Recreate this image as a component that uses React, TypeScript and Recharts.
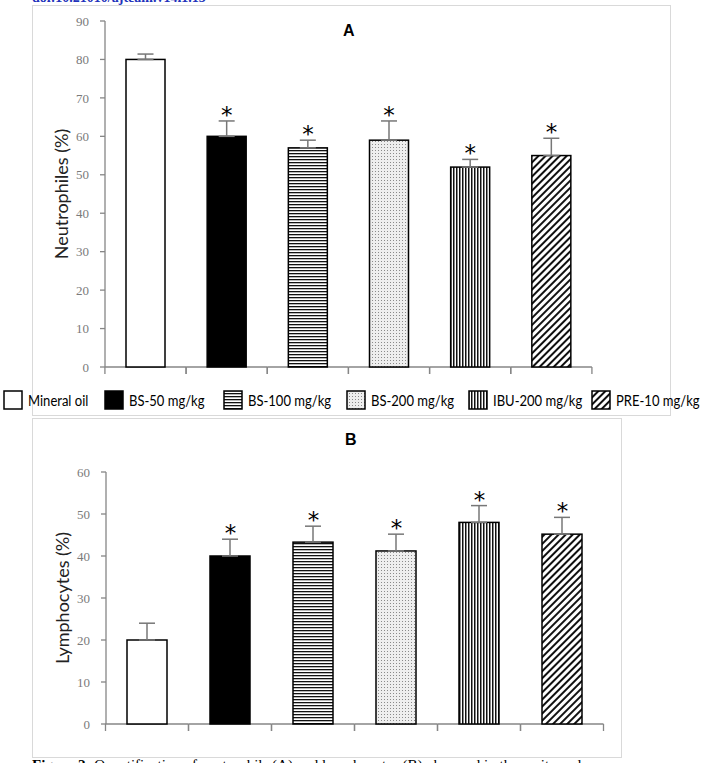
import React from 'react';
import { ComposedChart, Bar, Line, XAxis, YAxis, ErrorBar, Cell } from 'recharts';

const groups = ['Mineral oil', 'BS-50 mg/kg', 'BS-100 mg/kg', 'BS-200 mg/kg', 'IBU-200 mg/kg', 'PRE-10 mg/kg'];
const neutroMean = [80, 60, 57, 59, 52, 55];
const neutroErr = [1.4, 4, 2, 5, 2, 4.5];
const lymphoMean = [20, 40, 43.3, 41.2, 48, 45.2];
const lymphoErr = [4, 4, 3.8, 4, 4, 4];
const significant = [false, true, true, true, true, true];
const neutroTicks = [0, 10, 20, 30, 40, 50, 60, 70, 80, 90];
const lymphoTicks = [0, 10, 20, 30, 40, 50, 60];
const boundaryTicks = [0, 1, 2, 3, 4, 5, 6];
const fills = ['#ffffff', '#000000', 'url(#pHoriz)', 'url(#pDots)', 'url(#pVert)', 'url(#pDiag)'];
const legendSlots = [101, 119, 123, 122, 123, 111];

const AXIS = '#868686';
const Y_AXIS_WIDTH = 60;

const Star = (props: any) => {
  const { cx, cy, value, index } = props;
  if (value == null || cy == null) return <g key={'s' + index} />;
  return (
    <text key={'s' + index} x={cx} y={cy + 2} textAnchor="middle" fontSize={23} fontFamily="DejaVu Sans" fill="#000">
      *
    </text>
  );
};

// Bar shape: draws the category's stretch of the x axis (with boundary ticks) and the bar itself
const makeBarShape = (band: number) => (p: any) => {
  const x = Number(p.x);
  const y = Number(p.y);
  const w = Number(p.width);
  const h = Number(p.height);
  const cx = x + w / 2;
  const yb = y + h;
  const left = cx - band / 2;
  const right = cx + band / 2;
  return (
    <g>
      <line x1={left} x2={right} y1={yb} y2={yb} stroke={AXIS} strokeWidth={1.3} />
      <line x1={left} x2={left} y1={yb} y2={yb + 7} stroke={AXIS} strokeWidth={1.3} />
      <line x1={right} x2={right} y1={yb} y2={yb + 7} stroke={AXIS} strokeWidth={1.3} />
      <rect x={x} y={y} width={w} height={h} fill={p.fill} stroke="#000" strokeWidth={1.5} />
    </g>
  );
};

const BlankTick = () => <g />;

function Panel(props: { means: number[]; errs: number[]; ticks: number[]; label: string; width: number; height: number; margin: any; barSize: number }) {
  const { means, errs, ticks, label, width, height, margin, barSize } = props;
  const data = groups.map((g, i) => ({
    group: g,
    pos: i + 0.5,
    mean: means[i],
    err: [0, errs[i]],
    star: significant[i] ? means[i] + errs[i] : null,
  }));
  const max = ticks[ticks.length - 1];
  const band = (width - margin.left - margin.right - Y_AXIS_WIDTH) / groups.length;
  const shape = makeBarShape(band);
  return (
    <ComposedChart width={width} height={height} data={data} margin={margin}>
      <XAxis
        dataKey="pos"
        type="number"
        domain={[0, 6]}
        ticks={boundaryTicks}
        tick={BlankTick}
        interval={0}
        axisLine={false}
        tickLine={false}
      />
      <YAxis
        type="number"
        domain={[0, max]}
        ticks={ticks}
        width={Y_AXIS_WIDTH}
        tickSize={5}
        tickMargin={11}
        axisLine={{ stroke: AXIS, strokeWidth: 1.3 }}
        tickLine={{ stroke: AXIS, strokeWidth: 1.3 }}
        tick={{ fill: '#7a7a7a', fontFamily: 'Liberation Serif', fontSize: 13 }}
        label={{ value: label, angle: -90, position: 'center', dx: -13, style: { fontFamily: 'Lato', fontSize: 18, fill: '#222' } }}
      />
      <Bar dataKey="mean" barSize={barSize} stroke="#000" strokeWidth={1.5} shape={shape} isAnimationActive={false}>
        {data.map((d, i) => (
          <Cell key={i} fill={fills[i]} />
        ))}
        <ErrorBar dataKey="err" direction="y" width={8} stroke="#777" strokeWidth={1.5} />
      </Bar>
      <Line dataKey="star" stroke="none" dot={Star} activeDot={false} isAnimationActive={false} legendType="none" />
    </ComposedChart>
  );
}

function Swatch({ fill }: { fill: string }) {
  return (
    <svg width={20} height={20} style={{ display: 'block', flex: 'none' }}>
      <rect x={1} y={1} width={18} height={18} fill={fill} stroke="#000" strokeWidth={1.5} />
    </svg>
  );
}

export default function App() {
  return (
    <div style={{ position: 'absolute', left: 0, top: 0, width: 702, height: 763, overflow: 'hidden', background: '#fff' }}>
      <svg width={0} height={0} style={{ position: 'absolute' }}>
        <defs>
          <pattern id="pHoriz" width="4" height="3" patternUnits="userSpaceOnUse">
            <rect width="4" height="3" fill="#ffffff" />
            <rect width="4" height="1.3" fill="#111111" />
          </pattern>
          <pattern id="pDots" width="3" height="3" patternUnits="userSpaceOnUse">
            <rect width="3" height="3" fill="#eeeeee" />
            <rect width="1" height="1" fill="#8a8a8a" />
          </pattern>
          <pattern id="pVert" width="3" height="4" patternUnits="userSpaceOnUse">
            <rect width="3" height="4" fill="#ffffff" />
            <rect width="1.5" height="4" fill="#111111" />
          </pattern>
          <pattern id="pDiag" width="5" height="5" patternUnits="userSpaceOnUse" patternTransform="rotate(45)">
            <rect width="5" height="5" fill="#ffffff" />
            <rect width="2" height="5" fill="#111111" />
          </pattern>
        </defs>
      </svg>

      <div style={{ position: 'absolute', left: 32, top: -10, fontFamily: 'Liberation Serif', fontSize: 14, color: '#2233bb', fontWeight: 'bold', whiteSpace: 'nowrap' }}>
        doi:10.21010/ajtcam.v14i1.15
      </div>

      <div style={{ position: 'absolute', left: 32, top: 5, width: 637, height: 409, border: '1px solid #d9d9d9' }} />
      <div style={{ position: 'absolute', left: 32, top: 418, width: 588, height: 338, border: '1px solid #d9d9d9' }} />

      <div style={{ position: 'absolute', left: 0, top: 0 }}>
        <Panel
          means={neutroMean}
          errs={neutroErr}
          ticks={neutroTicks}
          label="Neutrophiles (%)"
          width={702}
          height={420}
          margin={{ top: 21, right: 110, bottom: 23, left: 45 }}
          barSize={39}
        />
      </div>
      <div style={{ position: 'absolute', left: 343, top: 22, fontFamily: 'Liberation Sans', fontWeight: 'bold', fontSize: 16 }}>A</div>

      <div style={{ position: 'absolute', left: 3, top: 390, display: 'flex', alignItems: 'center', whiteSpace: 'nowrap', fontFamily: 'Lato', fontSize: 15.5, color: '#000' }}>
        {groups.map((g, i) => (
          <div key={g} style={{ display: 'flex', alignItems: 'center', width: legendSlots[i] }}>
            <Swatch fill={fills[i]} />
            <span style={{ marginLeft: 5, display: 'inline-block', transform: 'scaleX(0.84)', transformOrigin: 'left center' }}>{g}</span>
          </div>
        ))}
      </div>

      <div style={{ position: 'absolute', left: 0, top: 420 }}>
        <Panel
          means={lymphoMean}
          errs={lymphoErr}
          ticks={lymphoTicks}
          label="Lymphocytes (%)"
          width={702}
          height={340}
          margin={{ top: 52, right: 98, bottom: 6, left: 46 }}
          barSize={40}
        />
      </div>
      <div style={{ position: 'absolute', left: 345, top: 431, fontFamily: 'Liberation Sans', fontWeight: 'bold', fontSize: 16 }}>B</div>

      <div style={{ position: 'absolute', left: 32, top: 757, fontFamily: 'Liberation Serif', fontSize: 15, color: '#000', whiteSpace: 'nowrap' }}>
        <b>Figure 2:</b> Quantification of neutrophils (A) and lymphocytes (B) observed in the peritoneal
      </div>
    </div>
  );
}
